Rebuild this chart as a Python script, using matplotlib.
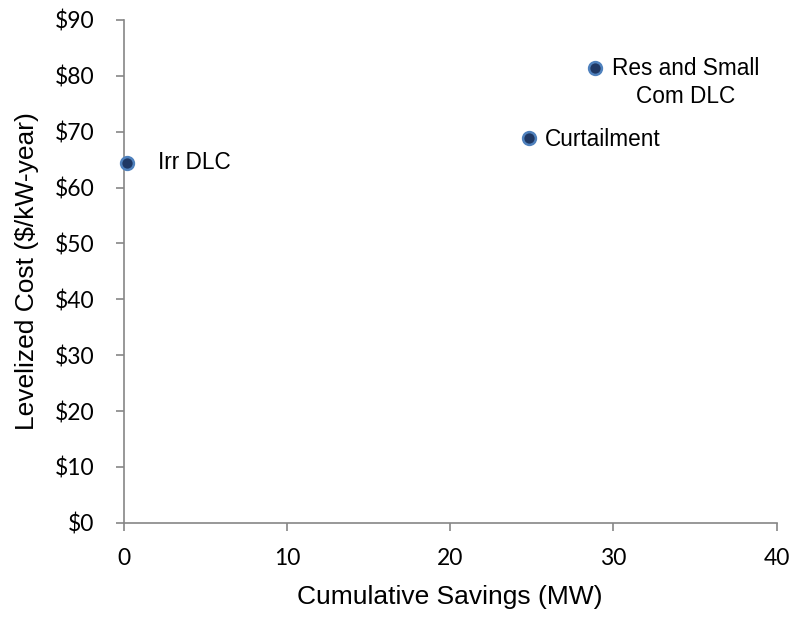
import matplotlib.pyplot as plt
from matplotlib.ticker import FuncFormatter

# Data
programs = ['Irr DLC', 'Curtailment', 'Res and Small\nCom DLC']
savings_mw = [0.2, 24.8, 28.9]
cost_kw_year = [64.4, 68.9, 81.4]

fig = plt.figure(figsize=(7.94, 6.17), dpi=100, facecolor='white')
ax = fig.add_axes([0.1558, 0.1528, 0.8224, 0.8148])

ax.scatter(savings_mw, cost_kw_year, s=85, color='#1F3864', edgecolor='#4F81BD',
           linewidth=1.8, zorder=3, clip_on=False)

# Point labels
label_font = dict(family='Liberation Sans', fontsize=16.3, color='black')
ax.text(savings_mw[0] + 1.9, cost_kw_year[0], programs[0], ha='left', va='center', **label_font)
ax.text(savings_mw[1] + 1.0, cost_kw_year[1] - 0.3, programs[1], ha='left', va='center', **label_font)
ax.text(savings_mw[2] + 5.55, cost_kw_year[2] - 2.6, programs[2], ha='center', va='center',
        multialignment='center', linespacing=1.3, **label_font)

ax.set_xlim(0, 40)
ax.set_ylim(0, 90)
ax.set_xticks(range(0, 41, 10))
ax.set_yticks(range(0, 91, 10))
ax.yaxis.set_major_formatter(FuncFormatter(lambda v, p: f'${v:.0f}'))

for lab in ax.get_xticklabels() + ax.get_yticklabels():
    lab.set_family('Lato')
    lab.set_fontsize(16.5)

ax.tick_params(axis='both', direction='out', length=6, width=1.2, color='#868686')
ax.tick_params(axis='y', pad=15)
ax.tick_params(axis='x', pad=12)

for side in ['top', 'right']:
    ax.spines[side].set_visible(False)
for side in ['left', 'bottom']:
    ax.spines[side].set_color('#868686')
    ax.spines[side].set_linewidth(1.2)

ax.set_xlabel('Cumulative Savings (MW)', family='Liberation Sans', fontsize=19, labelpad=12)
ax.set_ylabel('Levelized Cost ($/kW-year)', family='Liberation Sans', fontsize=19, labelpad=11.5)

plt.savefig('out.png', dpi=100, facecolor='white')
